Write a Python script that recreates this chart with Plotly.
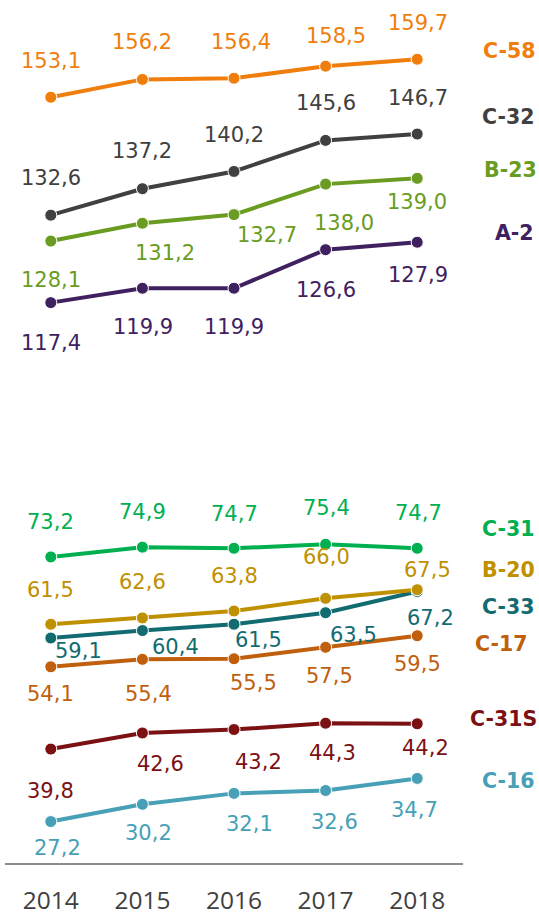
import plotly.graph_objects as go

years = ["2014", "2015", "2016", "2017", "2018"]

series_names = ["C-16", "C-31S", "C-17", "C-33", "B-20", "C-31", "A-2", "B-23", "C-32", "C-58"]

c16 = [27.2, 30.2, 32.1, 32.6, 34.7]
c31s = [39.8, 42.6, 43.2, 44.3, 44.2]
c17 = [54.1, 55.4, 55.5, 57.5, 59.5]
c33 = [59.1, 60.4, 61.5, 63.5, 67.2]
b20 = [61.5, 62.6, 63.8, 66.0, 67.5]
c31 = [73.2, 74.9, 74.7, 75.4, 74.7]
a2 = [117.4, 119.9, 119.9, 126.6, 127.9]
b23 = [128.1, 131.2, 132.7, 138.0, 139.0]
c32 = [132.6, 137.2, 140.2, 145.6, 146.7]
c58 = [153.1, 156.2, 156.4, 158.5, 159.7]

values = [c16, c31s, c17, c33, b20, c31, a2, b23, c32, c58]

# --- styling (kept separate from data) ---
colors = {
    "C-58": "#F07E0C", "C-32": "#404040", "B-23": "#6A9C22", "A-2": "#40215F",
    "C-31": "#00B050", "B-20": "#BF9000", "C-33": "#126B70", "C-17": "#C05F0E",
    "C-31S": "#7B1113", "C-16": "#47A0B6",
}
# per-point label offsets in pixels (dx right, dy down) relative to marker
label_dx = {
    "C-58": [0, 0, 7, 10.5, 0.5], "C-32": [0, 0, 0, 0.5, 0.5],
    "B-23": [0, 23, 33.4, 18.3, -0.5], "A-2": [0, 1, 0, 0.5, 1],
    "C-31": [0, 0.5, 0, 0.5, 1], "B-20": [0, 0.5, 0, 0.5, 10.3],
    "C-33": [28, 33, 24.3, 28.2, 13.6], "C-17": [0, 6.5, 19, 3.5, 0.6],
    "C-31S": [0, 18, 24.3, 7.3, 8.7], "C-16": [7, 6.2, 15.3, 8.6, -2.6],
}
label_dy = {
    "C-58": [-36.5, -37, -36, -30, -36.7], "C-32": [-36.8, -37.6, -36.7, -37, -36.3],
    "B-23": [39, 30, 20.5, 39, 24], "A-2": [40.5, 39, 39, 40.5, 33],
    "C-31": [-35, -35.5, -34.7, -36, -35.2], "B-20": [-34, -35.5, -35, -41, -19.4],
    "C-33": [13, 16.5, 15.3, 21.8, 26.4], "C-17": [27, 34.4, 24, 28.4, 28],
    "C-31S": [42, 31.3, 32.6, 29.4, 23.8], "C-16": [26, 28.6, 31, 31.7, 31.5],
}
# series name labels: center x in figure pixels, dy (down) relative to last marker
name_px = {"C-58": 509.5, "C-32": 509, "B-23": 510.3, "A-2": 514, "C-31": 508,
           "B-20": 509, "C-33": 508, "C-17": 501.3, "C-31S": 504, "C-16": 508}
name_dy = {"C-58": -8.4, "C-32": -16.8, "B-23": -8.3, "A-2": -9.3, "C-31": -19,
           "B-20": -19.4, "C-33": 15.6, "C-17": 8.6, "C-31S": -4.7, "C-16": 2.3}

W, H = 539, 913
ML, MR, MT, MB = 5, 76, 0, 50
PW = W - ML - MR

LABEL_FONT = "DejaVu Sans"

fig = go.Figure()
annotations = []
for name, vals in zip(series_names, values):
    col = colors[name]
    fig.add_trace(go.Scatter(
        x=years, y=vals, mode="lines+markers", name=name,
        line=dict(color=col, width=4),
        marker=dict(size=12, color=col, line=dict(color="white", width=1)),
        cliponaxis=False, showlegend=False, hoverinfo="skip",
    ))
    for i, v in enumerate(vals):
        annotations.append(dict(
            x=i, y=v, xref="x", yref="y", showarrow=False,
            text=f"{v:.1f}".replace(".", ","),
            xanchor="center", yanchor="middle",
            xshift=label_dx[name][i], yshift=-label_dy[name][i],
            font=dict(family=LABEL_FONT, size=21, color=col),
        ))
    annotations.append(dict(
        x=(name_px[name] - ML) / PW, y=vals[-1], xref="paper", yref="y",
        showarrow=False, text=f"<b>{name}</b>", xanchor="center", yanchor="middle",
        yshift=-name_dy[name],
        font=dict(family=LABEL_FONT, size=20.5, color=col),
    ))

fig.update_layout(
    width=W, height=H,
    margin=dict(l=ML, r=MR, t=MT, b=MB, pad=0, autoexpand=False),
    paper_bgcolor="white", plot_bgcolor="white",
    annotations=annotations,
    xaxis=dict(
        type="category", range=[-0.5, 4.5], showgrid=False, zeroline=False,
        showline=True, linecolor="#8C8C8C", linewidth=2, ticks="",
        tickfont=dict(family="Open Sans", size=24.5, color="#404040"),
        ticklabelstandoff=15, automargin=False,
    ),
    yaxis=dict(range=[20, 170], visible=False, showgrid=False, zeroline=False,
               automargin=False),
)

fig.write_html(
    "out.html",
    config={"displayModeBar": False, "staticPlot": True},
    post_script="document.body.style.margin='0';document.body.style.overflow='hidden';",
)
